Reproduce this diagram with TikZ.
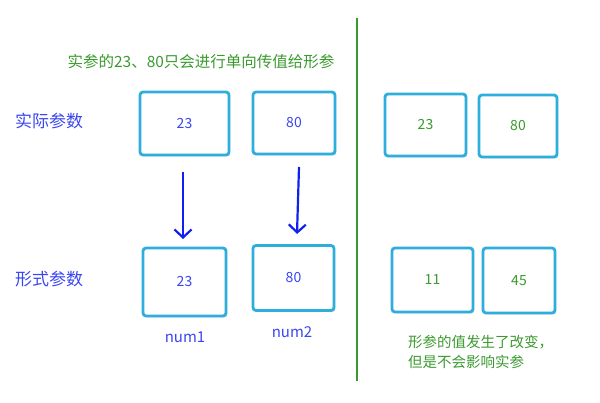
\documentclass[tikz,border=0pt]{standalone}
\usepackage{fontspec}
\setmainfont{Noto Sans CJK SC}
\usetikzlibrary{shadows,arrows.meta}
\definecolor{boxc}{HTML}{2DAEDC}
\definecolor{txtb}{HTML}{3A46F0}
\definecolor{grn}{HTML}{3A9A2E}
\definecolor{arrb}{HTML}{1020F0}
\tikzset{
  valbox/.style={draw=boxc, line width=2.8pt, rounded corners=3pt, fill=white,
    drop shadow={shadow xshift=1.2pt, shadow yshift=-1.5pt, opacity=0.25, fill=black!60},
    inner sep=0pt, font=\fontsize{14}{16}\selectfont},
  bluetxt/.style={text=txtb},
  greentxt/.style={text=grn},
  lbl/.style={font=\fontsize{17}{20}\selectfont, text=txtb, inner sep=0pt},
  note/.style={font=\fontsize{14.5}{20}\selectfont, text=grn, inner sep=0pt, align=left},
  passarrow/.style={draw=arrb, line width=2.2pt, -{Straight Barb[length=8pt, width=17pt, line width=2.2pt]}}
}
\begin{document}
\begin{tikzpicture}[x=1pt, y=-1pt]
\useasboundingbox (0,0) rectangle (600,403);
% divider
\draw[grn, line width=1.5pt] (357,18) -- (357,381);
% top note
\node[note, font=\fontsize{15.5}{20}\selectfont, anchor=center] (topnote) at (201,62) {实参的23、80只会进行单向传值给形参};
% labels
\node[lbl, anchor=west] (actual) at (15,121) {实际参数};
\node[lbl, anchor=west] (formal) at (15,279) {形式参数};
% left boxes
\node[valbox, bluetxt, minimum width=89pt, minimum height=63pt] (a1) at (184.5,123.5) {23};
\node[valbox, bluetxt, minimum width=82pt, minimum height=62pt] (a2) at (294,123) {80};
\node[valbox, bluetxt, minimum width=83pt, minimum height=68pt] (f1) at (184.5,282) {23};
\node[valbox, bluetxt, minimum width=81pt, minimum height=65pt] (f2) at (293.5,278) {80};
% names
\node[font=\fontsize{15}{17}\selectfont, text=txtb] (n1) at (185,337) {num1};
\node[font=\fontsize{15}{17}\selectfont, text=txtb] (n2) at (292,332) {num2};
% arrows
\coordinate (s1) at (183,172);
\coordinate (e1) at (183,239);
\coordinate (s2) at (299,167);
\coordinate (e2) at (297,234);
\draw[passarrow] (s1) -- (e1);
\draw[passarrow] (s2) -- (e2);
% right boxes
\node[valbox, greentxt, minimum width=81pt, minimum height=62pt] (r1) at (425.5,125) {23};
\node[valbox, greentxt, minimum width=78pt, minimum height=62pt] (r2) at (518,126) {80};
\node[valbox, greentxt, minimum width=81pt, minimum height=64pt] (r3) at (432.5,280) {11};
\node[valbox, greentxt, minimum width=72pt, minimum height=65pt] (r4) at (519,280.5) {45};
% right note
\node[note, anchor=north west] (rnote) at (408,335) {形参的值发生了改变，\\但是不会影响实参};
\end{tikzpicture}
\end{document}
